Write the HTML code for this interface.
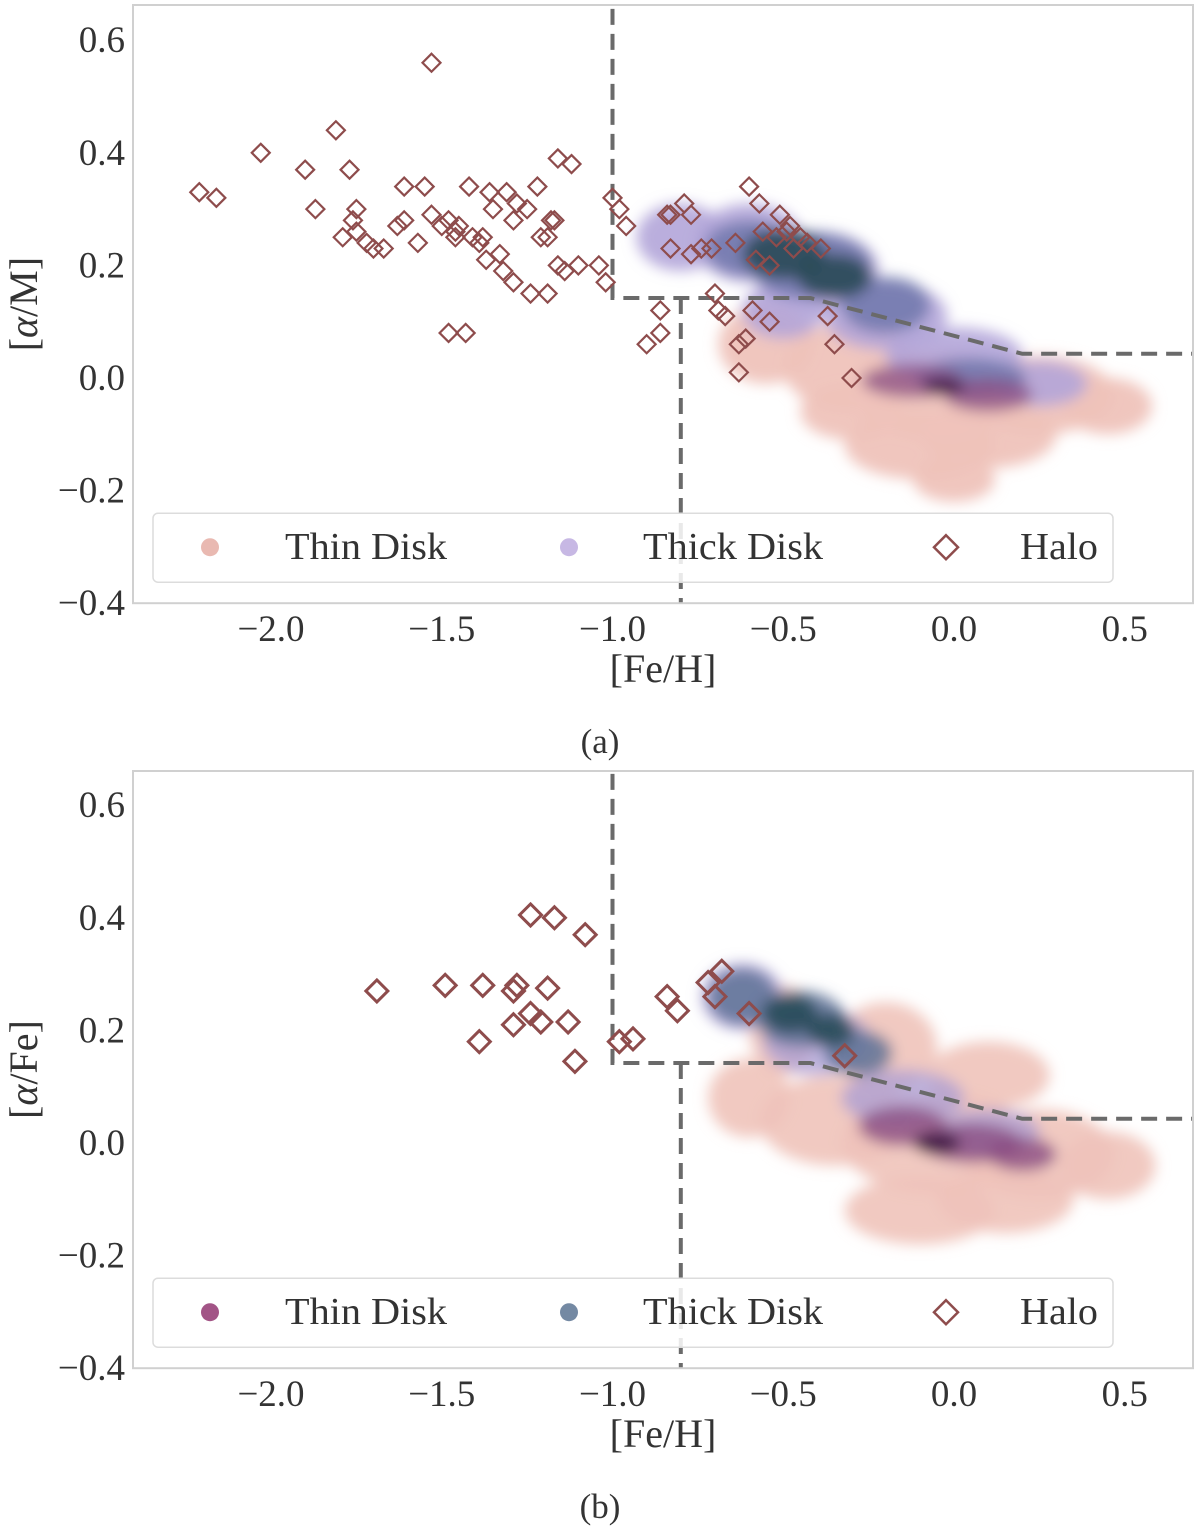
<!DOCTYPE html>
<html><head><meta charset="utf-8"><style>
body{margin:0;background:#fff}
svg{display:block}
text{font-family:"Liberation Serif",serif;fill:#333}
</style></head><body>
<svg id="chart" width="1200" height="1530" viewBox="0 0 1200 1530">
<defs>
<filter id="blur" x="-50%" y="-50%" width="200%" height="200%"><feGaussianBlur stdDeviation="7"/></filter>
</defs>
</svg>
<script>
// ---- data ----
const xTicks=[-2.0,-1.5,-1.0,-0.5,0.0,0.5];
const xTickLabels=["\u22122.0","\u22121.5","\u22121.0","\u22120.5","0.0","0.5"];
const yTicks=[0.6,0.4,0.2,0.0,-0.2,-0.4];
const yTickLabels=["0.6","0.4","0.2","0.0","\u22120.2","\u22120.4"];
const divFeh=[-1.0,-1.0,-0.42,0.2,0.7];
const divAlpha=[0.7,0.142,0.142,0.043,0.043];
const div2Feh=[-0.8,-0.8];
const div2Alpha=[0.142,-0.45];
const haloAFeh=[-2.21,-2.16,-2.03,-1.90,-1.87,-1.81,-1.77,-1.75,-1.79,-1.75,-1.76,-1.72,-1.70,-1.67,-1.63,-1.61,-1.61,-1.57,-1.55,-1.53,-1.53,-1.50,-1.48,-1.46,-1.46,-1.45,-1.42,-1.41,-1.39,-1.38,-1.37,-1.36,-1.35,-1.33,-1.32,-1.31,-1.29,-1.29,-1.28,-1.25,-1.24,-1.22,-1.21,-1.19,-1.19,-1.18,-1.17,-1.16,-1.16,-1.14,-1.12,-1.10,-1.04,-1.02,-1.00,-0.98,-0.96,-1.48,-1.43,-0.90,-0.86,-0.86,-0.84,-0.83,-0.83,-0.79,-0.77,-0.77,-0.74,-0.71,-0.70,-0.69,-0.67,-0.64,-0.63,-0.63,-0.61,-0.60,-0.59,-0.57,-0.54,-0.54,-0.51,-0.49,-0.47,-0.45,-0.43,-0.39,-0.37,-0.35,-0.30,-0.58,-0.52,-0.48,-0.56];
const haloAAlpha=[0.33,0.32,0.40,0.37,0.30,0.44,0.37,0.30,0.25,0.26,0.28,0.24,0.23,0.23,0.27,0.28,0.34,0.24,0.34,0.56,0.29,0.27,0.28,0.25,0.26,0.27,0.34,0.25,0.24,0.25,0.21,0.33,0.30,0.22,0.19,0.33,0.17,0.28,0.31,0.30,0.15,0.34,0.25,0.15,0.25,0.28,0.28,0.20,0.39,0.19,0.38,0.20,0.20,0.17,0.32,0.30,0.27,0.08,0.08,0.06,0.12,0.08,0.29,0.29,0.23,0.31,0.29,0.22,0.23,0.23,0.15,0.12,0.11,0.24,0.06,0.01,0.07,0.34,0.12,0.31,0.20,0.10,0.29,0.26,0.23,0.25,0.24,0.23,0.11,0.06,0.00,0.21,0.25,0.27,0.26];
const haloBFeh=[-1.69,-1.49,-1.38,-1.28,-1.29,-1.19,-1.24,-1.17,-1.08,-1.39,-1.29,-1.24,-1.21,-1.13,-1.11,-0.98,-0.94,-0.84,-0.81,-0.72,-0.68,-0.70,-0.60,-0.32];
const haloBAlpha=[0.27,0.28,0.28,0.28,0.27,0.275,0.405,0.40,0.37,0.18,0.21,0.23,0.215,0.215,0.145,0.18,0.185,0.26,0.235,0.285,0.305,0.26,0.23,0.155];
const blobsA={
 pink:{feh:[-0.55,-0.3,-0.05,0.25,0.45,-0.1,0.1,-0.3,0.0],alpha:[0.06,0.02,-0.03,-0.03,-0.05,-0.12,-0.1,-0.06,-0.18],w:[0.14,0.2,0.25,0.22,0.13,0.22,0.2,0.15,0.12],h:[0.07,0.08,0.08,0.07,0.05,0.06,0.06,0.05,0.04],color:"#efc3ba",op:0.95},
 lilac:{feh:[-0.8,-0.6,-0.4,-0.2,0.0,0.25,-0.5],alpha:[0.25,0.24,0.19,0.11,0.04,-0.01,0.12],w:[0.13,0.16,0.18,0.18,0.2,0.14,0.12],h:[0.06,0.07,0.07,0.06,0.05,0.04,0.05],color:"#b3a5d9",op:0.9},
 blue:{feh:[-0.6,-0.42,-0.2,0.05],alpha:[0.23,0.2,0.13,0.0],w:[0.13,0.18,0.13,0.16],h:[0.05,0.06,0.05,0.035],color:"#7078ad",op:0.85},
 teal:{feh:[-0.5,-0.35],alpha:[0.22,0.18],w:[0.12,0.11],h:[0.045,0.04],color:"#244953",op:0.85},
 purple:{feh:[-0.12,0.1],alpha:[-0.005,-0.03],w:[0.15,0.13],h:[0.03,0.03],color:"#8a4c82",op:0.75},
 core:{feh:[-0.03],alpha:[-0.015],w:[0.06],h:[0.015],color:"#3a1640",op:0.8}
};
const blobsB={
 pink:{feh:[-0.6,-0.35,-0.05,0.25,0.45,-0.1,0.15,-0.5,-0.2,0.1],alpha:[0.08,0.04,0.0,-0.02,-0.04,-0.12,-0.1,0.2,0.17,0.12],w:[0.12,0.22,0.28,0.22,0.14,0.22,0.2,0.1,0.15,0.18],h:[0.07,0.08,0.09,0.08,0.06,0.06,0.06,0.08,0.08,0.06],color:"#efc3ba",op:0.9},
 lilac:{feh:[-0.62,-0.4,-0.15,0.1],alpha:[0.26,0.18,0.08,0.02],w:[0.12,0.16,0.18,0.15],h:[0.06,0.06,0.05,0.04],color:"#aa9cd4",op:0.75},
 blue:{feh:[-0.62,-0.45,-0.28],alpha:[0.26,0.22,0.16],w:[0.1,0.13,0.1],h:[0.05,0.05,0.04],color:"#5f7396",op:0.85},
 teal:{feh:[-0.48,-0.36],alpha:[0.23,0.2],w:[0.08,0.07],h:[0.035,0.03],color:"#1f4650",op:0.8},
 purple:{feh:[-0.15,0.05,0.2],alpha:[0.03,0.0,-0.02],w:[0.13,0.15,0.1],h:[0.035,0.035,0.03],color:"#8a4c82",op:0.8},
 core:{feh:[-0.05],alpha:[0.0],w:[0.07],h:[0.02],color:"#3a1640",op:0.85}
};
// ---- drawing ----
const NS="http://www.w3.org/2000/svg";
const svg=document.getElementById('chart');
function mk(tag,attrs,parent){const e=document.createElementNS(NS,tag);for(const k in attrs)e.setAttribute(k,attrs[k]);(parent||svg).appendChild(e);return e;}
const L=133,R=1193;
function xs(v){return 954+v*341.5;}
function panel(key,top,y0px,halosF,halosA,blobs,thinColor,thickColor,yLabel,cap){
  const g=mk('g',{});
  
  
  const ys=v=>y0px-v*563;
  const bottom=ys(-0.4);
  const clip=mk('clipPath',{id:'clip'+key},g);
  mk('rect',{x:L,y:top,width:R-L,height:bottom-top},clip);
  const plot=mk('g',{'clip-path':'url(#clip'+key+')'},g);
  
  
  const cg=mk('g',{filter:'url(#blur)'},plot);
  for(const name of ['pink','lilac','blue','teal','purple','core']){
    const b=blobs[name];
    for(let i=0;i<b.feh.length;i++){
      const e=mk('ellipse',{cx:xs(b.feh[i]),cy:ys(b.alpha[i]),rx:b.w[i]*341.5,ry:b.h[i]*563,fill:b.color,opacity:b.op},cg);
      
      
    }
  }
  let d='';divFeh.forEach((f,i)=>{d+=(i?'L':'M')+xs(f)+' '+ys(divAlpha[i]);});
  const p1=mk('path',{d:d,fill:'none',stroke:'#6a6a6a','stroke-width':4,'stroke-dasharray':'16 9'},plot);
  
  
  let d2='';div2Feh.forEach((f,i)=>{d2+=(i?'L':'M')+xs(f)+' '+ys(div2Alpha[i]);});
  const p2=mk('path',{d:d2,fill:'none',stroke:'#6a6a6a','stroke-width':4,'stroke-dasharray':'16 9'},plot);
  
  
  const sz=key==='a'?9:11, sw=key==='a'?2.2:3;
  halosF.forEach((f,i)=>{
    const x=xs(f),y=ys(halosA[i]);
    const h=mk('path',{d:`M${x} ${y-sz}L${x+sz} ${y}L${x} ${y+sz}L${x-sz} ${y}Z`,fill:'none',stroke:'#8e4c4c','stroke-width':sw},plot);
    
    
  });
  const fr=mk('rect',{x:L,y:top,width:R-L,height:bottom-top,fill:'none',stroke:'#d0d0d0','stroke-width':2},g);
  
  
  xTicks.forEach((t,i)=>{const tx=mk('text',{x:xs(t),y:bottom+38,'text-anchor':'middle','font-size':37},g);tx.textContent=xTickLabels[i];
    });
  yTicks.forEach((t,i)=>{const tx=mk('text',{x:125,y:ys(t)+12,'text-anchor':'end','font-size':37},g);tx.textContent=yTickLabels[i];
    });
  const xl=mk('text',{x:663,y:bottom+79,'text-anchor':'middle','font-size':40},g);xl.textContent='[Fe/H]';
  
  const yc=(top+bottom)/2;
  const yl=mk('text',{x:37,y:yc,'text-anchor':'middle','font-size':40,transform:`rotate(-90 37 ${yc})`},g);
  yl.innerHTML=yLabel;
  
  const lt=bottom-90;
  const lg=mk('g',{},g);
  
  mk('rect',{x:153,y:lt,width:960,height:69,rx:5,fill:'#fff','fill-opacity':0.85,stroke:'#dcdcdc','stroke-width':1.5},lg);
  const cy=lt+34;
  const c1=mk('circle',{cx:210,cy:cy,r:9,fill:thinColor},lg);
  
  const c2=mk('circle',{cx:569,cy:cy,r:9,fill:thickColor},lg);
  
  const dm=mk('path',{d:`M946 ${cy-12}L958 ${cy}L946 ${cy+12}L934 ${cy}Z`,fill:'none',stroke:'#8e4c4c','stroke-width':2.5},lg);
  
  [['Thin Disk',285,162],['Thick Disk',643,180],['Halo',1020,78]].forEach(([s,x,w])=>{
    const t=mk('text',{x:x,y:cy+12,'font-size':38,textLength:w,lengthAdjust:'spacingAndGlyphs'},lg);t.textContent=s;
    });
  const cp=mk('text',{x:600,y:bottom+150,'text-anchor':'middle','font-size':35},g);cp.textContent=cap;
  
}
panel('a',5,378,haloAFeh,haloAAlpha,blobsA,'#e9b9b1','#c7b8e4','[<tspan font-style="italic">α</tspan>/M]','(a)');
panel('b',771,1143,haloBFeh,haloBAlpha,blobsB,'#a25486','#7489a3','[<tspan font-style="italic">α</tspan>/Fe]','(b)');
</script>
</body></html>
